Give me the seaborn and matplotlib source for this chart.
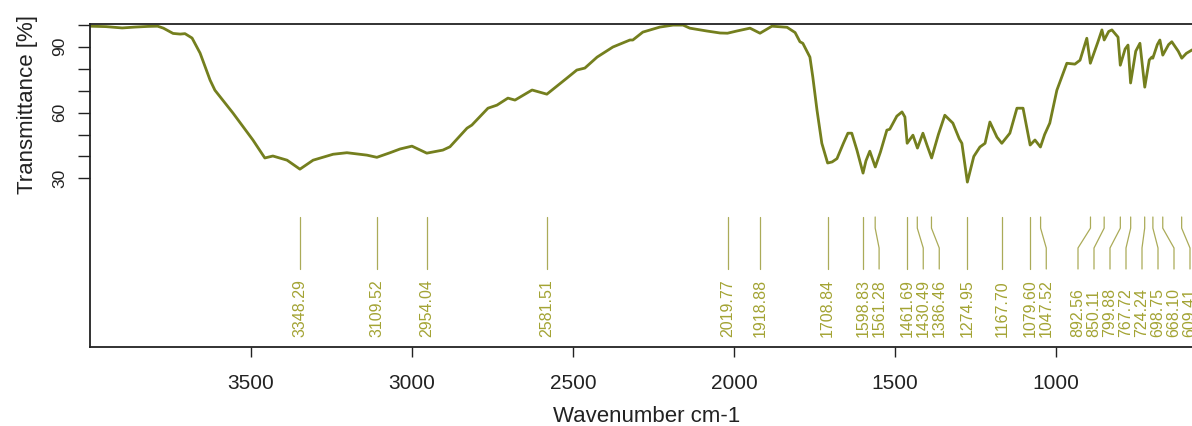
import matplotlib
matplotlib.use("Agg")
import matplotlib.pyplot as plt
import seaborn as sns
from matplotlib.transforms import blended_transform_factory

# IR spectrum: wavenumber (cm-1) and transmittance (%)
wavenumber = [
    4000, 3950, 3900, 3860, 3820, 3790, 3772, 3742, 3720, 3705, 3683, 3658,
    3627, 3612, 3556, 3494, 3457, 3432, 3388, 3348, 3307, 3245, 3202, 3140,
    3109, 3068, 3037, 3000, 2954, 2904, 2882, 2829, 2814, 2764, 2736, 2702,
    2680, 2627, 2581, 2519, 2488, 2463, 2425, 2376, 2323, 2314, 2283, 2230,
    2189, 2158, 2137, 2084, 2043, 2020, 1991, 1950, 1919, 1882, 1835, 1810,
    1795, 1786, 1764, 1755, 1742, 1727, 1709, 1695, 1680, 1660, 1646, 1634,
    1618, 1599, 1590, 1578, 1561, 1545, 1525, 1516, 1494, 1478, 1469, 1462,
    1444, 1430, 1413, 1400, 1386, 1365, 1345, 1320, 1300, 1292, 1275, 1255,
    1236, 1220, 1205, 1183, 1168, 1143, 1121, 1102, 1080, 1065, 1048, 1035,
    1019, 997, 966, 941, 925, 904, 893, 870, 857, 850, 836, 826, 807, 800,
    785, 776, 768, 752, 739, 724, 710, 702, 699, 685, 677, 668, 650, 640,
    620, 609, 595, 578, 560, 540,
]
transmittance = [
    99.4, 99.2, 98.6, 99.0, 99.3, 99.4, 98.5, 96.1, 95.8, 96.0, 94.0, 87.1,
    74.8, 70.2, 59.8, 47.5, 39.3, 40.2, 38.3, 34.2, 38.3, 41.0, 41.7, 40.6,
    39.6, 41.7, 43.4, 44.7, 41.5, 42.9, 44.4, 52.9, 54.3, 62.0, 63.4, 66.6,
    65.7, 70.3, 68.4, 75.7, 79.4, 80.3, 85.3, 89.9, 93.1, 93.1, 96.7, 99.0,
    99.9, 99.9, 98.5, 97.2, 96.3, 96.2, 97.2, 98.5, 96.2, 99.4, 98.9, 96.5,
    92.3, 91.6, 85.3, 76.2, 61.1, 46.0, 37.0, 37.5, 39.0, 46.0, 50.6, 50.6,
    42.9, 32.4, 38.0, 42.4, 35.2, 42.0, 52.0, 52.4, 58.4, 60.3, 58.0, 46.0,
    49.7, 43.8, 50.6, 45.0, 39.3, 50.0, 58.8, 55.2, 48.0, 46.0, 28.3, 40.0,
    44.3, 46.0, 55.7, 48.8, 46.0, 50.6, 62.0, 62.0, 45.2, 47.5, 44.3, 50.0,
    55.2, 70.2, 82.5, 82.1, 83.9, 93.9, 82.5, 92.0, 97.7, 93.1, 97.0, 97.7,
    94.4, 81.6, 89.0, 90.8, 73.5, 88.0, 91.6, 71.6, 84.0, 85.3, 84.8, 91.0,
    93.1, 86.2, 91.0, 92.3, 88.0, 84.8, 87.0, 88.5, 89.5, 90.0,
]

# Picked absorption bands
peak_wavenumbers = [
    3348.29, 3109.52, 2954.04, 2581.51, 2019.77, 1918.88, 1708.84, 1598.83,
    1561.28, 1461.69, 1430.49, 1386.46, 1274.95, 1167.70, 1079.60, 1047.52,
    892.56, 850.11, 799.88, 767.72, 724.24, 698.75, 668.10, 609.41,
]

x_ticks = [3500, 3000, 2500, 2000, 1500, 1000]
y_ticks = [30, 40, 50, 60, 70, 80, 90, 100]
y_ticklabels = ["30", "", "", "60", "", "", "90", ""]

LINE_COLOR = "#747f1e"
LEADER_COLOR = "#abab58"
LABEL_COLOR = "#a3a333"

sns.set_theme(style="ticks")
plt.rcParams["font.family"] = ["Liberation Sans", "DejaVu Sans"]

W, H = 1192, 426
fig = plt.figure(figsize=(W / 100, H / 100), dpi=100)
fig.patch.set_facecolor("white")
ax = fig.add_axes([90 / W, 1 - 347 / H, 1114 / W, 323 / H])
ax.set_facecolor("white")

sns.lineplot(x=wavenumber, y=transmittance, ax=ax, color=LINE_COLOR,
             linewidth=2.0)

ax.set_xlim(4000, 540)
ax.set_ylim(-46.9, 100.4)

ax.set_xticks(x_ticks)
ax.set_xticklabels([str(t) for t in x_ticks])
ax.set_yticks(y_ticks)
ax.set_yticklabels(y_ticklabels)

for side in ("left", "top", "bottom"):
    ax.spines[side].set_color("#222222")
    ax.spines[side].set_linewidth(1.3)
ax.spines["right"].set_visible(False)

ax.tick_params(axis="x", direction="out", length=7.5, width=1.0,
               colors="#222222", labelsize=15, pad=12)
ax.tick_params(axis="y", direction="out", length=8.5, width=1.0,
               colors="#222222", labelsize=12.5, pad=8, labelrotation=90)
for lab in ax.get_yticklabels():
    lab.set_va("center")

ax.set_xlabel("Wavenumber cm-1", fontsize=16, color="#222222")
ax.xaxis.set_label_coords(0.5, -0.183)
ax.set_ylabel("Transmittance [%]", fontsize=16, color="#222222")
ax.yaxis.set_label_coords(-0.047, 0.75)

# Peak labels: spread crowded labels apart in display space
fig.canvas.draw()
to_px = ax.transData
peaks_sorted = sorted(peak_wavenumbers, reverse=True)
px = [to_px.transform((p, 0))[0] for p in peaks_sorted]
gap = 16.0
right_limit = to_px.transform((540, 0))[0] - 14
pos = list(px)
for i in range(1, len(pos)):
    pos[i] = max(pos[i], pos[i - 1] + gap)
if pos[-1] > right_limit:
    pos[-1] = right_limit
    for i in range(len(pos) - 2, -1, -1):
        pos[i] = min(pos[i], pos[i + 1] - gap)
inv = to_px.inverted()
label_x = [inv.transform((p, 0))[0] for p in pos]

blend = blended_transform_factory(ax.transData, ax.transAxes)
for peak, lx in zip(peaks_sorted, label_x):
    ax.plot([peak, peak, lx, lx], [0.4025, 0.368, 0.3065, 0.2415],
            transform=blend, color=LEADER_COLOR, linewidth=0.9,
            clip_on=False)
    ax.text(lx, 0.031, f"{peak:.2f}", transform=blend, rotation=90,
            ha="center", va="bottom", fontsize=11.5, color=LABEL_COLOR,
            clip_on=False)

fig.savefig("out.png", dpi=100, facecolor="white")
